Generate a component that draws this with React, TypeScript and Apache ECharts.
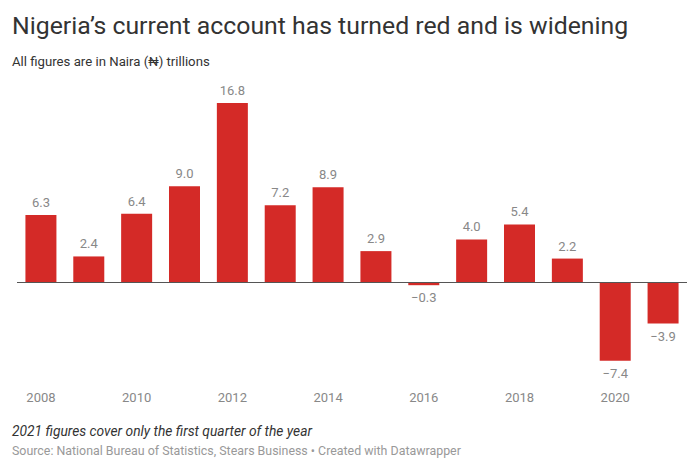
import React, { useEffect, useRef } from "react";
import * as echarts from "echarts";

const years = ["2008", "2009", "2010", "2011", "2012", "2013", "2014", "2015", "2016", "2017", "2018", "2019", "2020", "2021"];
const values = [6.3, 2.4, 6.4, 9.0, 16.8, 7.2, 8.9, 2.9, -0.3, 4.0, 5.4, 2.2, -7.4, -3.9];

const titleText = "Nigeria’s current account has turned red and is widening";
const subtitleText = "All figures are in Naira (₦) trillions";
const noteText = "2021 figures cover only the first quarter of the year";
const sourceText = "Source: National Bureau of Statistics, Stears Business • Created with Datawrapper";

const FONT = "Roboto, 'Liberation Sans', sans-serif";
const fmt = (v: number) => (v < 0 ? "\u2212" + Math.abs(v).toFixed(1) : v.toFixed(1));

export default function App() {
  const ref = useRef<HTMLDivElement>(null);
  useEffect(() => {
    if (!ref.current) return;
    const chart = echarts.init(ref.current, undefined, { renderer: "svg" });
    chart.setOption({
      animation: false,
      backgroundColor: "#ffffff",
      grid: { left: 17, right: 9, top: 90.3, bottom: 83.5, containLabel: false },
      xAxis: {
        type: "category",
        data: years,
        axisLine: { show: false, onZero: false },
        axisTick: { show: false },
        axisLabel: { interval: 1, color: "#888888", fontSize: 13, fontFamily: FONT, margin: 2 },
      },
      yAxis: { type: "value", min: -10, max: 18, show: false, splitLine: { show: false } },
      graphic: [
        { type: "text", left: 12, top: 13, style: { text: titleText, font: `400 24.8px ${FONT}`, fill: "#333333" } },
        { type: "text", left: 12, top: 55, style: { text: subtitleText, font: `400 13.2px ${FONT}`, fill: "#333333" } },
        { type: "text", left: 12, top: 424, style: { text: noteText, font: `italic 400 13.8px ${FONT}`, fill: "#333333" } },
        { type: "text", left: 12, top: 444, style: { text: sourceText, font: `400 12.4px ${FONT}`, fill: "#999999" } },
      ],
      series: [
        {
          type: "bar",
          data: values.map((v) => ({
            value: v,
            label: { position: v < 0 ? "bottom" : "top" },
          })),
          barWidth: 31,
          itemStyle: { color: "#d42a27" },
          label: {
            show: true,
            distance: 6,
            color: "#888888",
            fontSize: 13,
            fontFamily: FONT,
            formatter: (p: any) => fmt(p.value),
          },
          markLine: {
            silent: true,
            symbol: "none",
            label: { show: false },
            lineStyle: { color: "#555555", width: 1, type: "solid" },
            data: [{ yAxis: 0 }],
          },
        },
      ],
    });
    return () => chart.dispose();
  }, []);
  return <div ref={ref} style={{ position: "fixed", left: 0, top: 0, width: 696, height: 472 }} />;
}
